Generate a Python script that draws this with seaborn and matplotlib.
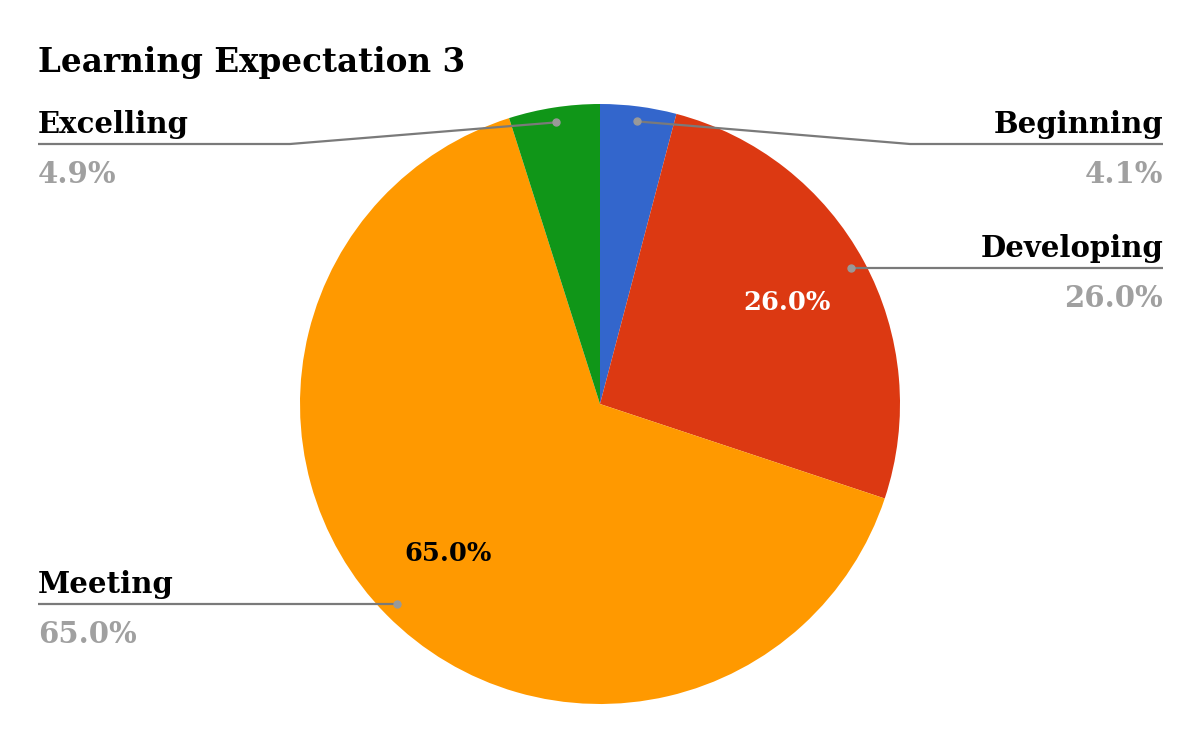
import numpy as np
import matplotlib
matplotlib.use("Agg")
import matplotlib.pyplot as plt
import seaborn as sns

categories = ["Beginning", "Developing", "Meeting", "Excelling"]
values = [4.1, 26.0, 65.0, 4.9]
colors = ["#3366cc", "#dc3912", "#ff9900", "#109618"]
inside_color = {"Developing": "white", "Meeting": "black"}

sns.set_theme(style="white")
plt.rcParams["font.family"] = ["DejaVu Serif"]

W, H = 1200, 742
fig = plt.figure(figsize=(W / 100, H / 100), dpi=100)

cx, cy, R = 600, 404, 300
ax = fig.add_axes([(cx - R) / W, (H - cy - R) / H, 2 * R / W, 2 * R / H])
wedges, _ = ax.pie(values, colors=colors, startangle=90, counterclock=False,
                   radius=1, wedgeprops=dict(linewidth=0))
ax.set_xlim(-1, 1)
ax.set_ylim(-1, 1)
ax.set_aspect("equal")
ax.axis("off")

ov = fig.add_axes([0, 0, 1, 1], zorder=5)
ov.set_xlim(0, W)
ov.set_ylim(H, 0)
ov.axis("off")

total = sum(values)
cum = 0
line_c = "#7a7a7a"
val_c = "#a0a0a0"
lab_fs = 21
for cat, v in zip(categories, values):
    mid = np.deg2rad(90 - (cum + v / 2) / total * 360)
    cum += v
    dx, dy = np.cos(mid), np.sin(mid)
    px, py = cx + 0.95 * R * dx, cy - 0.95 * R * dy
    right = dx >= 0
    if py < 200:
        ly = 144
        ex = 910 if right else 290
    else:
        ly = py
        ex = px
    endx = 1163 if right else 38
    ov.plot([px, ex, endx], [py, ly, ly], color=line_c, lw=1.6, solid_capstyle="butt")
    ov.plot([px], [py], "o", color="#999999", ms=5)
    ha = "right" if right else "left"
    ov.text(endx, ly - 11, cat, ha=ha, va="baseline", fontsize=lab_fs,
            fontweight="bold", color="black")
    ov.text(endx, ly + 39, f"{v:.1f}%", ha=ha, va="baseline", fontsize=lab_fs,
            fontweight="bold", color=val_c)
    if cat in inside_color:
        ix, iy = cx + 0.71 * R * dx, cy - 0.71 * R * dy
        ov.text(ix, iy, f"{v:.1f}%", ha="center", va="center", fontsize=18.5,
                fontweight="bold", color=inside_color[cat])

ov.text(38, 72, "Learning Expectation 3", ha="left", va="baseline",
        fontsize=23.5, fontweight="bold", color="black")

fig.savefig("out.png", dpi=100, facecolor="white")
